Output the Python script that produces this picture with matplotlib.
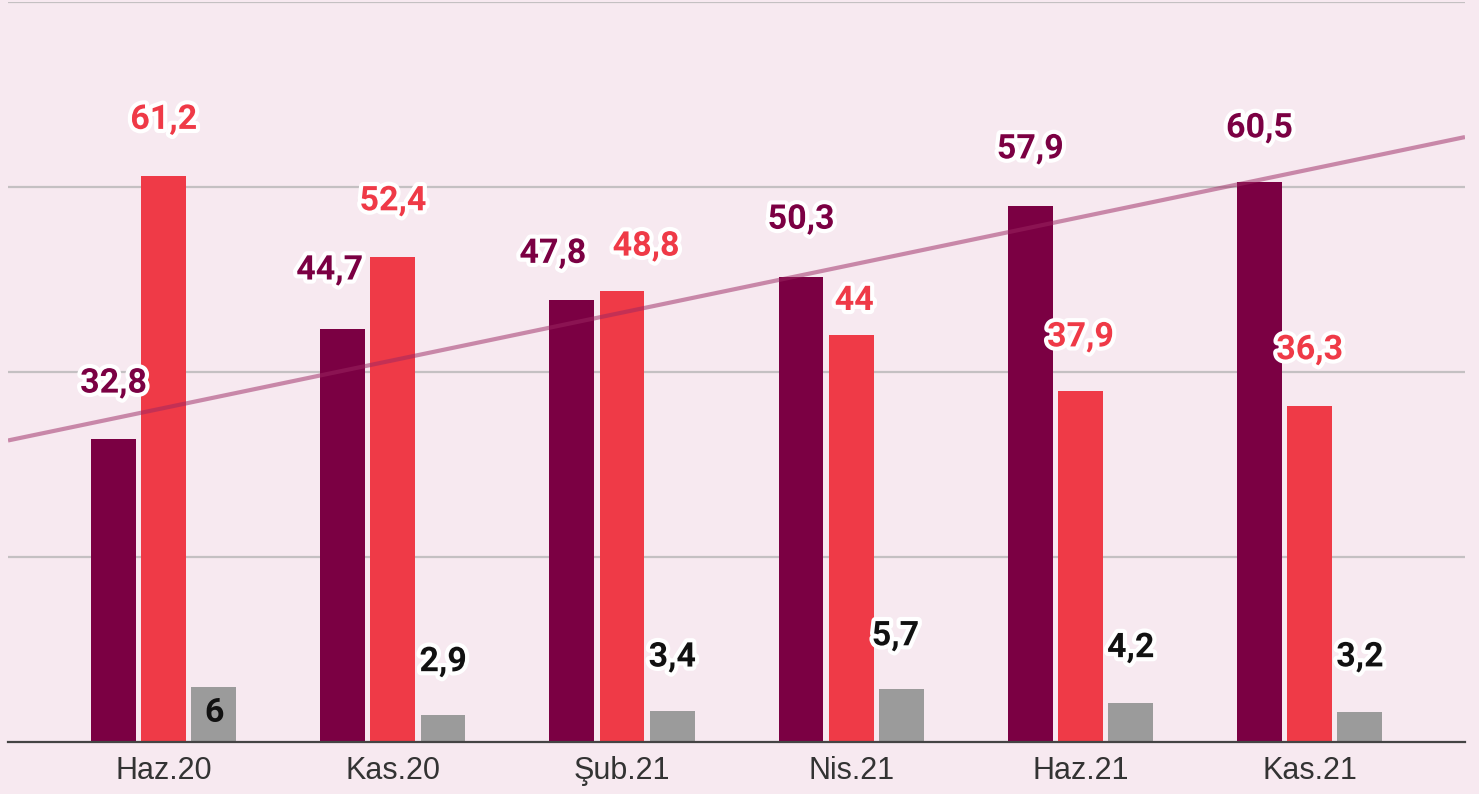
import numpy as np
import matplotlib
matplotlib.use("Agg")
import matplotlib.pyplot as plt
import matplotlib.patheffects as pe

# data
donemler = ["Haz.20", "Kas.20", "Şub.21", "Nis.21", "Haz.21", "Kas.21"]
seri_1 = [32.8, 44.7, 47.8, 50.3, 57.9, 60.5]
seri_2 = [61.2, 52.4, 48.8, 44.0, 37.9, 36.3]
seri_3 = [6.0, 2.9, 3.4, 5.7, 4.2, 3.2]

renkler = ["#7B0043", "#EF3A47", "#9B9B9B"]
yazi_renk = ["#7B0043", "#EF3A47", "#111111"]
arka = "#F7E9F0"

# label offsets in pixels (dx, dy) relative to bar top
ofset_1 = [(0, 55), (-13, 58), (-19, 46), (0, 57), (0, 57), (0, 54)]
ofset_2 = [(0, 56), (0, 56), (24, 44), (3, 34), (0, 54), (0, 56)]
ofset_3 = [(0, -27), (0, 53), (0, 53), (-6, 53), (0, 55), (0, 55)]

fig = plt.figure(figsize=(14.79, 7.94), dpi=100, facecolor=arka)
ax = fig.add_axes([8/1479, 52/794, (1465-8)/1479, 740/794])
ax.set_facecolor(arka)

x = np.arange(len(donemler))
w = 0.196
adim = 0.219
seriler = [seri_1, seri_2, seri_3]
ofsetler = [ofset_1, ofset_2, ofset_3]

for i, s in enumerate(seriler):
    xs = x + (i - 1) * adim
    ax.bar(xs, s, width=w, color=renkler[i], zorder=2)
    for j in range(len(s)):
        etiket = ("%g" % s[j]).replace(".", ",")
        dx, dy = ofsetler[i][j]
        # label sitting inside the bar has no white halo
        efekt = [pe.withStroke(linewidth=6, foreground="white")] if dy > 0 else []
        ax.annotate(etiket, (xs[j], s[j]), xytext=(dx, dy), textcoords="offset pixels",
                    ha="center", va="center", fontsize=24.5, fontweight="bold",
                    family="Roboto", color=yazi_renk[i], zorder=5,
                    path_effects=efekt)

# trend line of first series
xmin, xmax = -0.679, 5.678
k = np.polyfit(x, seri_1, 1)
xx = np.array([xmin, xmax])
ax.plot(xx, np.polyval(k, xx), color="#9B2761", alpha=0.5, lw=3, zorder=4,
        solid_capstyle="butt")

ax.set_xlim(xmin, xmax)
ax.set_ylim(0, 80)
ax.set_yticks([20, 40, 60, 80])
ax.yaxis.grid(True, color="#C4C0C2", lw=1.6, zorder=0)
ax.set_axisbelow(True)
ax.tick_params(axis="y", left=False, labelleft=False)
ax.set_xticks(x)
ax.set_xticklabels(donemler, family="Liberation Sans", fontsize=22, color="#333333")
ax.tick_params(axis="x", length=0, pad=10)
for sp in ["top", "right", "left"]:
    ax.spines[sp].set_visible(False)
ax.spines["bottom"].set_color("#444444")
ax.spines["bottom"].set_linewidth(1.6)
ax.spines["bottom"].set_zorder(3)

fig.savefig("out.png", dpi=100, facecolor=arka)
